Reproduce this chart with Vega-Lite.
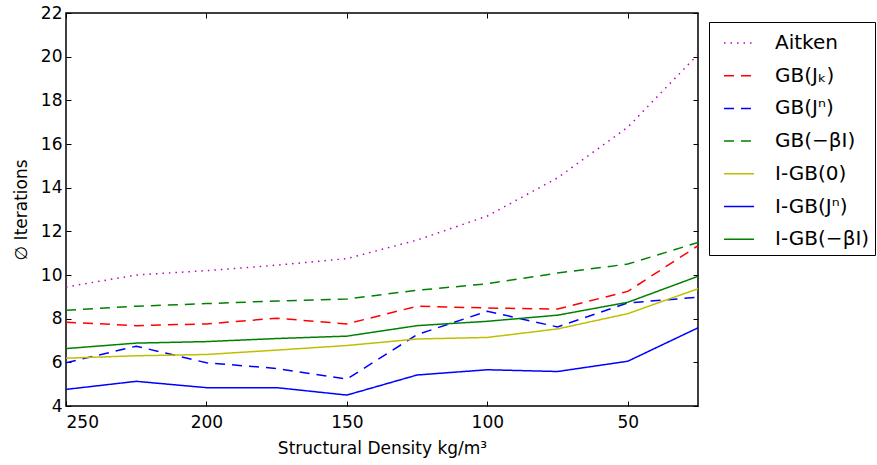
{
  "$schema": "https://vega.github.io/schema/vega-lite/v6.json",
  "width": 632,
  "height": 393,
  "autosize": {"type": "none"},
  "padding": {"left": 66, "top": 13, "right": 179, "bottom": 59},
  "background": "white",
  "config": {
    "font": "DejaVu Sans",
    "view": {"stroke": "#000000", "strokeWidth": 1.5},
    "axis": {
      "domain": false,
      "grid": false,
      "tickColor": "#000000",
      "tickSize": -5,
      "tickWidth": 1,
      "labelFont": "DejaVu Sans",
      "labelFontSize": 17,
      "labelColor": "#000000",
      "titleFont": "DejaVu Sans",
      "titleFontSize": 17,
      "titleFontWeight": "normal",
      "titleColor": "#000000"
    },
    "legend": {
      "labelFont": "DejaVu Sans",
      "labelFontSize": 20,
      "labelColor": "#000000",
      "symbolType": "stroke",
      "symbolSize": 900,
      "symbolStrokeWidth": 1.5,
      "strokeColor": "#000000",
      "fillColor": "#ffffff",
      "padding": 5,
      "symbolOffset": 9,
      "labelOffset": 20,
      "rowPadding": 6.7,
      "labelLimit": 400
    }
  },
  "data": {
    "values": [
      {"density": 250, "method": "Aitken", "iterations": 9.45},
      {"density": 225, "method": "Aitken", "iterations": 10.0},
      {"density": 200, "method": "Aitken", "iterations": 10.2},
      {"density": 175, "method": "Aitken", "iterations": 10.45},
      {"density": 150, "method": "Aitken", "iterations": 10.75},
      {"density": 125, "method": "Aitken", "iterations": 11.6},
      {"density": 100, "method": "Aitken", "iterations": 12.7},
      {"density": 75, "method": "Aitken", "iterations": 14.45},
      {"density": 50, "method": "Aitken", "iterations": 16.77},
      {"density": 25, "method": "Aitken", "iterations": 20.1},

      {"density": 250, "method": "GB(Jₖ)", "iterations": 7.84},
      {"density": 225, "method": "GB(Jₖ)", "iterations": 7.68},
      {"density": 200, "method": "GB(Jₖ)", "iterations": 7.76},
      {"density": 175, "method": "GB(Jₖ)", "iterations": 8.02},
      {"density": 150, "method": "GB(Jₖ)", "iterations": 7.76},
      {"density": 125, "method": "GB(Jₖ)", "iterations": 8.57},
      {"density": 100, "method": "GB(Jₖ)", "iterations": 8.49},
      {"density": 75, "method": "GB(Jₖ)", "iterations": 8.44},
      {"density": 50, "method": "GB(Jₖ)", "iterations": 9.25},
      {"density": 25, "method": "GB(Jₖ)", "iterations": 11.34},

      {"density": 250, "method": "GB(Jⁿ)", "iterations": 5.98},
      {"density": 225, "method": "GB(Jⁿ)", "iterations": 6.74},
      {"density": 200, "method": "GB(Jⁿ)", "iterations": 5.98},
      {"density": 175, "method": "GB(Jⁿ)", "iterations": 5.72},
      {"density": 150, "method": "GB(Jⁿ)", "iterations": 5.23},
      {"density": 125, "method": "GB(Jⁿ)", "iterations": 7.27},
      {"density": 100, "method": "GB(Jⁿ)", "iterations": 8.34},
      {"density": 75, "method": "GB(Jⁿ)", "iterations": 7.62},
      {"density": 50, "method": "GB(Jⁿ)", "iterations": 8.72},
      {"density": 25, "method": "GB(Jⁿ)", "iterations": 8.98},

      {"density": 250, "method": "GB(−βI)", "iterations": 8.38},
      {"density": 225, "method": "GB(−βI)", "iterations": 8.57},
      {"density": 200, "method": "GB(−βI)", "iterations": 8.69},
      {"density": 175, "method": "GB(−βI)", "iterations": 8.81},
      {"density": 150, "method": "GB(−βI)", "iterations": 8.9},
      {"density": 125, "method": "GB(−βI)", "iterations": 9.3},
      {"density": 100, "method": "GB(−βI)", "iterations": 9.6},
      {"density": 75, "method": "GB(−βI)", "iterations": 10.09},
      {"density": 50, "method": "GB(−βI)", "iterations": 10.5},
      {"density": 25, "method": "GB(−βI)", "iterations": 11.49},

      {"density": 250, "method": "I-GB(0)", "iterations": 6.19},
      {"density": 225, "method": "I-GB(0)", "iterations": 6.3},
      {"density": 200, "method": "I-GB(0)", "iterations": 6.36},
      {"density": 175, "method": "I-GB(0)", "iterations": 6.56},
      {"density": 150, "method": "I-GB(0)", "iterations": 6.77},
      {"density": 125, "method": "I-GB(0)", "iterations": 7.07},
      {"density": 100, "method": "I-GB(0)", "iterations": 7.14},
      {"density": 75, "method": "I-GB(0)", "iterations": 7.53},
      {"density": 50, "method": "I-GB(0)", "iterations": 8.23},
      {"density": 25, "method": "I-GB(0)", "iterations": 9.37},

      {"density": 250, "method": "I-GB(Jⁿ)", "iterations": 4.76},
      {"density": 225, "method": "I-GB(Jⁿ)", "iterations": 5.13},
      {"density": 200, "method": "I-GB(Jⁿ)", "iterations": 4.84},
      {"density": 175, "method": "I-GB(Jⁿ)", "iterations": 4.84},
      {"density": 150, "method": "I-GB(Jⁿ)", "iterations": 4.5},
      {"density": 125, "method": "I-GB(Jⁿ)", "iterations": 5.42},
      {"density": 100, "method": "I-GB(Jⁿ)", "iterations": 5.66},
      {"density": 75, "method": "I-GB(Jⁿ)", "iterations": 5.58},
      {"density": 50, "method": "I-GB(Jⁿ)", "iterations": 6.05},
      {"density": 25, "method": "I-GB(Jⁿ)", "iterations": 7.58},

      {"density": 250, "method": "I-GB(−βI)", "iterations": 6.63},
      {"density": 225, "method": "I-GB(−βI)", "iterations": 6.88},
      {"density": 200, "method": "I-GB(−βI)", "iterations": 6.95},
      {"density": 175, "method": "I-GB(−βI)", "iterations": 7.09},
      {"density": 150, "method": "I-GB(−βI)", "iterations": 7.2},
      {"density": 125, "method": "I-GB(−βI)", "iterations": 7.68},
      {"density": 100, "method": "I-GB(−βI)", "iterations": 7.88},
      {"density": 75, "method": "I-GB(−βI)", "iterations": 8.16},
      {"density": 50, "method": "I-GB(−βI)", "iterations": 8.75},
      {"density": 25, "method": "I-GB(−βI)", "iterations": 9.94}
    ]
  },
  "layer": [
    {
      "mark": {"type": "line", "strokeWidth": 1.5, "clip": true},
      "encoding": {
        "x": {
          "field": "density",
          "type": "quantitative",
          "scale": {"domain": [25, 250], "reverse": true, "nice": false, "zero": false},
          "axis": {"orient": "bottom", "values": [250, 200, 150, 100, 50], "labelPadding": 13, "title": "Structural Density kg/m³", "titlePadding": 10}
        },
        "y": {
          "field": "iterations",
          "type": "quantitative",
          "scale": {"domain": [4, 22], "nice": false, "zero": false},
          "axis": {"orient": "left", "values": [4, 6, 8, 10, 12, 14, 16, 18, 20, 22], "labelPadding": 9, "title": "∅ Iterations", "titlePadding": 10}
        },
        "color": {
          "field": "method",
          "type": "nominal",
          "sort": null,
          "scale": {
            "domain": ["Aitken", "GB(Jₖ)", "GB(Jⁿ)", "GB(−βI)", "I-GB(0)", "I-GB(Jⁿ)", "I-GB(−βI)"],
            "range": ["#bf00bf", "#ff0000", "#0000ff", "#008000", "#bfbf00", "#0000ff", "#008000"]
          },
          "legend": {"title": null, "orient": "none", "legendX": 643, "legendY": 9}
        },
        "strokeDash": {
          "field": "method",
          "type": "nominal",
          "sort": null,
          "scale": {
            "domain": ["Aitken", "GB(Jₖ)", "GB(Jⁿ)", "GB(−βI)", "I-GB(0)", "I-GB(Jⁿ)", "I-GB(−βI)"],
            "range": [[1.5, 5], [10, 7], [10, 7], [10, 7], [1, 0], [1, 0], [1, 0]]
          },
          "legend": {"title": null, "orient": "none", "legendX": 643, "legendY": 9}
        }
      }
    },
    {
      "mark": {"type": "line", "opacity": 0},
      "encoding": {
        "x": {
          "field": "density",
          "type": "quantitative",
          "axis": {"orient": "top", "values": [250, 200, 150, 100, 50], "labels": false, "title": null}
        },
        "y": {
          "field": "iterations",
          "type": "quantitative",
          "axis": {"orient": "right", "values": [4, 6, 8, 10, 12, 14, 16, 18, 20, 22], "labels": false, "title": null}
        }
      }
    }
  ],
  "resolve": {"axis": {"x": "independent", "y": "independent"}}
}
